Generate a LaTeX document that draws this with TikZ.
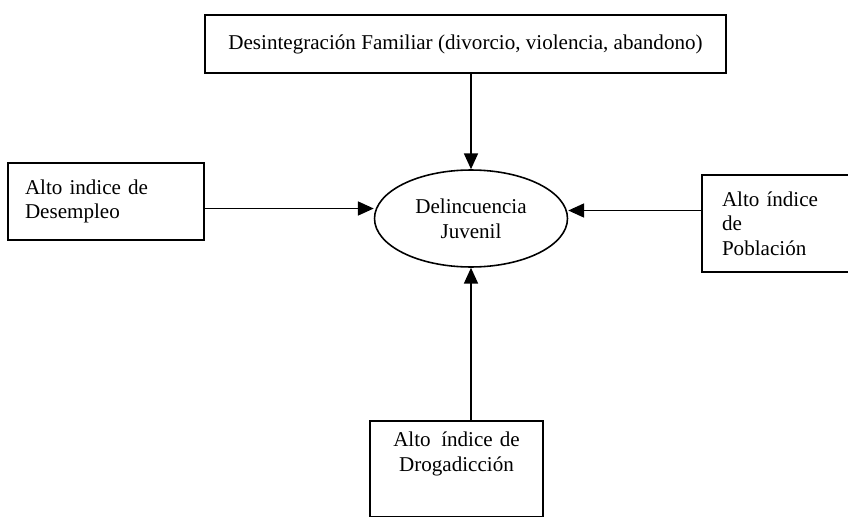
\documentclass[tikz,border=0pt]{standalone}
\usepackage{fontspec}
\setmainfont{Liberation Serif}
\usetikzlibrary{shapes.geometric,arrows.meta}
\tikzset{
	caja/.style={draw, line width=1pt, rectangle},
	ovalo/.style={draw, line width=0.9pt, ellipse, minimum width=3.86cm, minimum height=1.94cm, align=center, inner sep=0pt},
	flecha/.style={-{Triangle[length=9pt,width=8pt]}, line width=0.8pt}
}

\begin{document}
\begin{tikzpicture}[x=0.02cm, y=-0.02cm, font=\fontsize{12}{14}\selectfont]
	\useasboundingbox (0,0) rectangle (848,517);
	\node[caja, minimum width=10.42cm, minimum height=1.16cm] (familia) at (465.5,44) {Desintegración Familiar (divorcio, violencia, abandono)};
	\node[ovalo] (delincuencia) at (471,218.5) {Delincuencia\\Juvenil};
	\node[caja, align=left, text width=3.24cm, inner xsep=0.34cm, minimum height=1.54cm] (desempleo) at (106,201.5) {Alto indice de\\Desempleo};
	\node[caja, align=left, text width=2.52cm, inner xsep=0.4cm, minimum height=1.94cm] (poblacion) at (785,223.5) {Alto índice\\de\\Población};
	\node[caja, anchor=north, align=center, text width=3.06cm, inner xsep=0.2cm, inner ysep=0.2cm, text height=9pt, text depth=34pt] (droga) at (456.5,420) {Alto\, índice de\\Drogadicción};
	\draw[flecha] (familia.south -| delincuencia.north) -- (delincuencia.north);
	\draw[flecha] ([yshift=0.2cm]desempleo.east |- delincuencia.west) -- ([yshift=0.2cm]delincuencia.west);
	\draw[flecha] ([yshift=0.16cm]poblacion.west |- delincuencia.east) -- ([yshift=0.16cm]delincuencia.east);
	\draw[flecha] (droga.north -| delincuencia.south) -- (delincuencia.south);
\end{tikzpicture}
\end{document}
